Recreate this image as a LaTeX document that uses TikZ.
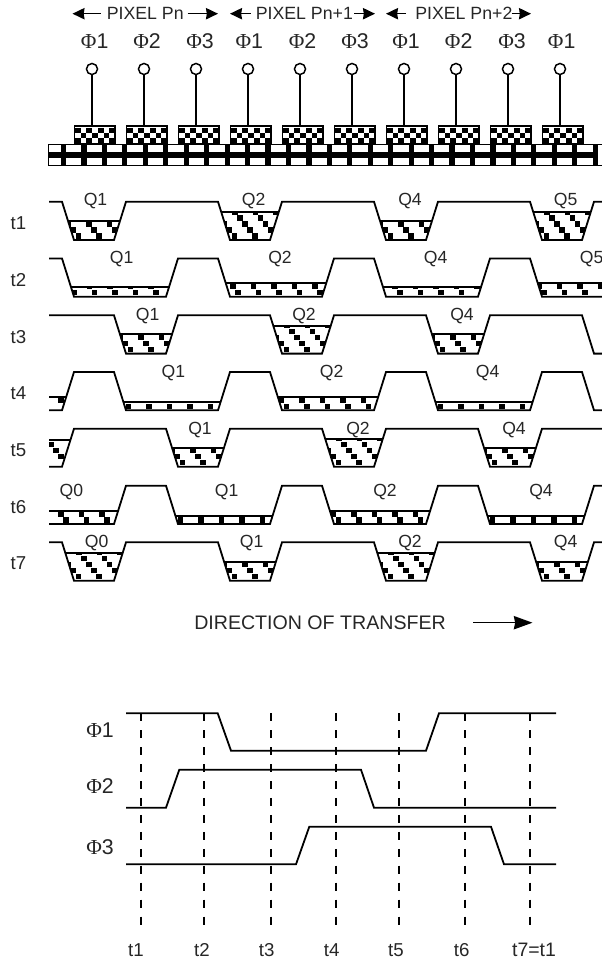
\documentclass[tikz,border=0pt]{standalone}
\usepackage{fontspec}
\setmainfont{Liberation Sans}
\newfontfamily\phifont{Liberation Serif}
\usetikzlibrary{arrows.meta}
\tikzset{
  wave/.style={line width=1.35pt,line join=miter},
  lab/.style={font=\fontsize{13.3pt}{15pt}\selectfont,inner sep=0pt,text=black!85},
  dirlab/.style={font=\fontsize{14.7pt}{16pt}\selectfont,inner sep=0pt,text=black!85},
  qlab/.style={font=\fontsize{13.2pt}{15pt}\selectfont,inner sep=0pt,text=black!85},
  tlab/.style={font=\fontsize{14pt}{16pt}\selectfont,inner sep=0pt,text=black!85},
  philab/.style={font=\fontsize{16pt}{18pt}\selectfont,inner sep=0pt,text=black!85},
  pin/.style={circle,draw,line width=1.1pt,minimum size=8.3pt,inner sep=0pt,fill=white},
  pinline/.style={line width=1.1pt},
  gate/.style={rectangle,draw,line width=1.2pt,minimum width=30.5pt,minimum height=13.6pt,inner sep=0pt},
  arr/.style={line width=1.1pt,-{Stealth[length=9pt,width=8.5pt,inset=0.6pt]}},
  bigarr/.style={line width=1.1pt,-{Stealth[length=14pt,width=10pt,inset=1pt]}},
  dashln/.style={line width=1.4pt,dash pattern=on 6pt off 6.7pt},
}
% \well{xl}{xr}{ybottom}{ycharge}{phase}
\newcommand{\well}[5]{%
  \pgfmathsetmacro{\ddx}{12*(#3-#4)/38.33}%
  \begin{scope}
    \clip (#1-\ddx,#4) -- (#2+\ddx,#4) -- (#2,#3) -- (#1,#3) -- cycle;
    \foreach \r in {0,...,5}{
      \foreach \k in {-1,...,9}{
        \pgfmathsetmacro{\sx}{#1+#5+20.5*\k-5*\r}
        \pgfmathsetmacro{\sy}{#3-4-6*\r}
        \fill (\sx-2.7,\sy-2.7) rectangle (\sx+2.7,\sy+2.7);
      }
    }
  \end{scope}
  \draw[line width=1.35pt] (#1-\ddx,#4) -- (#2+\ddx,#4);
}
\begin{document}
\begin{tikzpicture}[x=0.75pt,y=-0.75pt]
\useasboundingbox (0,0) rectangle (602,963);

% header arrows and texts
\node[lab,anchor=west] (p1) at (106.5,13.5) {PIXEL Pn};
\node[lab,anchor=west] (p2) at (255.5,13) {PIXEL Pn+1};
\node[lab,anchor=west] (p3) at (415,13) {PIXEL Pn+2};
\coordinate (a1) at (100.7,13.7); \coordinate (a2) at (72.5,13.7);
\coordinate (a3) at (187.7,13.7); \coordinate (a4) at (218,13.7);
\coordinate (a5) at (250.7,13.7); \coordinate (a6) at (230,13.7);
\coordinate (a7) at (354.3,13.7); \coordinate (a8) at (375,13.7);
\coordinate (a9) at (406,13.7); \coordinate (a10) at (386,13.7);
\coordinate (a11) at (511.7,13.7); \coordinate (a12) at (531,13.7);
\draw[arr] (a1) -- (a2);
\draw[arr] (a3) -- (a4);
\draw[arr] (a5) -- (a6);
\draw[arr] (a7) -- (a8);
\draw[arr] (a9) -- (a10);
\draw[arr] (a11) -- (a12);

% bottom band
\begin{scope}
\clip (48.5,144.5) rectangle (602,165.5);
\foreach \n in {0,...,26}{
  \pgfmathsetmacro{\bx}{63.5+20.45*\n}
  \fill (\bx-2.6,144.5) rectangle (\bx+2.6,165.5);
  \fill (\bx-19.2,152.3) rectangle (\bx,157.7);
}
\end{scope}
\draw[line width=1.2pt] (602,144.5) -- (48.5,144.5) -- (48.5,165.5) -- (602,165.5);

% gates, pins, phase labels
\foreach \i/\x/\lx/\d in {1/92/94.7/1,2/144/147/2,3/196/200/3,4/248/249.3/1,5/300/302.5/2,6/352/355/3,7/404/406/1,8/456/458.7/2,9/508/512/3,10/560/561.7/1}{
  \node[gate,fill=white] (e\i) at (\x+2.8,135) {};
  \begin{scope}
    \clip (\x-18,125.7) rectangle (\x+23.7,144.3);
    \foreach \c in {0,2,4,6}{
      \fill (\x-17+5.7*\c,128) rectangle +(5.7,5);
      \fill (\x-17+5.7*\c,138) rectangle +(5.7,5);
      \fill (\x-17+5.7+5.7*\c,133) rectangle +(5.7,5);
    }
  \end{scope}
  \node[pin] (c\i) at (\x,69) {};
  \coordinate (g\i) at (\x,125.7);
  \draw[pinline] (c\i) -- (g\i);
  \node[philab] (f\i) at (\lx,41) {{\phifont Φ}\d};
}

% wells (charge)
\begin{scope}
\clip (49,180) rectangle (602,600);
\well{74}{114}{240}{220.7}{4.5}
\well{230}{270}{240}{212.3}{4.5}
\well{386}{426}{240}{220.7}{4.5}
\well{542}{582}{240}{212.3}{4.5}
\well{74}{166}{296.7}{287.3}{0}
\well{230}{322}{296.7}{283.3}{8}
\well{386}{478}{296.7}{287.3}{14}
\well{542}{640}{296.7}{283.3}{2}
\well{126}{166}{353.6}{334.3}{4.5}
\well{282}{322}{353.6}{325.7}{4.5}
\well{438}{478}{353.6}{334.3}{4.5}
\well{0}{62}{410.3}{396.7}{4.5}
\well{126}{218}{410.3}{401.7}{2.3}
\well{282}{374}{410.3}{396.7}{4.5}
\well{438}{530}{410.3}{401.7}{2.3}
\well{0}{62}{466.7}{439.7}{4.5}
\well{178}{218}{466.7}{447.7}{4.5}
\well{334}{374}{466.7}{439.3}{4.5}
\well{490}{530}{466.7}{447.7}{4.5}
\well{0}{114}{524}{511}{4.5}
\well{178}{270}{524}{515.7}{2.3}
\well{334}{426}{524}{511}{4.5}
\well{490}{582}{524}{515.7}{2.3}
\well{74}{114}{580.7}{553.3}{4.5}
\well{230}{270}{580.7}{561.7}{4.5}
\well{386}{426}{580.7}{553.3}{4.5}
\well{542}{582}{580.7}{561.7}{4.5}
\end{scope}

% potential profiles
\draw[wave] (49,201.7)--(62,201.7)--(74,240)--(114,240)--(126,201.7)--(218,201.7)--(230,240)--(270,240)--(282,201.7)--(374,201.7)--(386,240)--(426,240)--(438,201.7)--(530,201.7)--(542,240)--(582,240)--(594,201.7)--(602,201.7);
\draw[wave] (49,258.4)--(62,258.4)--(74,296.7)--(166,296.7)--(178,258.4)--(218,258.4)--(230,296.7)--(322,296.7)--(334,258.4)--(374,258.4)--(386,296.7)--(478,296.7)--(490,258.4)--(530,258.4)--(542,296.7)--(602,296.7);
\draw[wave] (49,315.3)--(114,315.3)--(126,353.6)--(166,353.6)--(178,315.3)--(270,315.3)--(282,353.6)--(322,353.6)--(334,315.3)--(426,315.3)--(438,353.6)--(478,353.6)--(490,315.3)--(582,315.3)--(594,353.6)--(602,353.6);
\draw[wave] (49,410.3)--(62,410.3)--(74,372)--(114,372)--(126,410.3)--(218,410.3)--(230,372)--(270,372)--(282,410.3)--(374,410.3)--(386,372)--(426,372)--(438,410.3)--(530,410.3)--(542,372)--(582,372)--(594,410.3)--(602,410.3);
\draw[wave] (49,466.7)--(62,466.7)--(74,428.7)--(166,428.7)--(178,466.7)--(218,466.7)--(230,428.7)--(322,428.7)--(334,466.7)--(374,466.7)--(386,428.7)--(478,428.7)--(490,466.7)--(530,466.7)--(542,428.7)--(602,428.7);
\draw[wave] (49,524)--(114,524)--(126,485.7)--(166,485.7)--(178,524)--(270,524)--(282,485.7)--(322,485.7)--(334,524)--(426,524)--(438,485.7)--(478,485.7)--(490,524)--(582,524)--(594,485.7)--(602,485.7);
\draw[wave] (49,542.3)--(62,542.3)--(74,580.7)--(114,580.7)--(126,542.3)--(218,542.3)--(230,580.7)--(270,580.7)--(282,542.3)--(374,542.3)--(386,580.7)--(426,580.7)--(438,542.3)--(530,542.3)--(542,580.7)--(582,580.7)--(594,542.3)--(602,542.3);

% charge labels
\foreach \n/\x/\y/\t in {
 q1/95.5/201.5/Q1,q2/253.7/201.5/Q2,q3/410/201.5/Q4,q4/565.7/201.5/Q5,
 q5/121.7/259/Q1,q6/280/259/Q2,q7/435.7/259/Q4,q8/591.7/259/Q5,
 q9/147.7/316/Q1,q10/304/316/Q2,q11/462/316/Q4,
 q12/173.3/372.7/Q1,q13/331.7/372.7/Q2,q14/487.7/372.7/Q4,
 q15/200/430/Q1,q16/358/430/Q2,q17/514/430/Q4,
 q18/71.3/491.7/Q0,q19/226.7/491.7/Q1,q20/385/491.7/Q2,q21/541/491.7/Q4,
 q22/96.7/543.3/Q0,q23/251.7/543.3/Q1,q24/410/543.3/Q2,q25/565.7/543.3/Q4}{
  \node[qlab] (\n) at (\x,\y) {\t};
}
% time labels
\foreach \n/\y in {1/222.7,2/280,3/336.7,4/393,5/450,6/506.7,7/563}{
  \node[tlab] (r\n) at (18.5,\y) {t\n};
}

% direction
\node[dirlab,anchor=west] (dir) at (194,622.7) {DIRECTION OF TRANSFER};
\coordinate (d1) at (473.3,622.7); \coordinate (d2) at (532.5,622.7);
\draw[bigarr] (d1) -- (d2);

% timing diagram
\foreach \n/\x in {a/141.3,b/204.3,c/271.3,d/336.3,e/399.3,f/464.7}{
  \coordinate (\n0) at (\x,713.3); \coordinate (\n1) at (\x,928);
  \draw[dashln] (\n0) -- (\n1);
}
\coordinate (g0) at (529.7,713.3); \coordinate (g1) at (529.7,928);
\draw[dashln] (g0) -- (g1);
\draw[wave] (126,713.3)--(217.7,713.3)--(231,750.7)--(426,750.7)--(439,713.3)--(556,713.3);
\draw[wave] (126,807.7)--(166,807.7)--(179.3,769.7)--(361,769.7)--(374,807.7)--(556,807.7);
\draw[wave] (126,864.3)--(296,864.3)--(309.3,826.7)--(491,826.7)--(504,864.3)--(556,864.3);
\node[philab] (w1) at (100,730) {{\phifont Φ}1};
\node[philab] (w2) at (100,785.7) {{\phifont Φ}2};
\node[philab] (w3) at (100,846.7) {{\phifont Φ}3};
\foreach \n/\x/\t in {l1/136/t1,l2/202/t2,l3/266.7/t3,l4/331.7/t4,l5/396/t5,l6/461.7/t6}{
  \node[tlab] (\n) at (\x,950) {\t};
}
\node[font=\fontsize{14.6pt}{16pt}\selectfont,inner sep=0pt,text=black!85] (l7) at (534,950) {t7=t1};
\end{tikzpicture}
\end{document}
